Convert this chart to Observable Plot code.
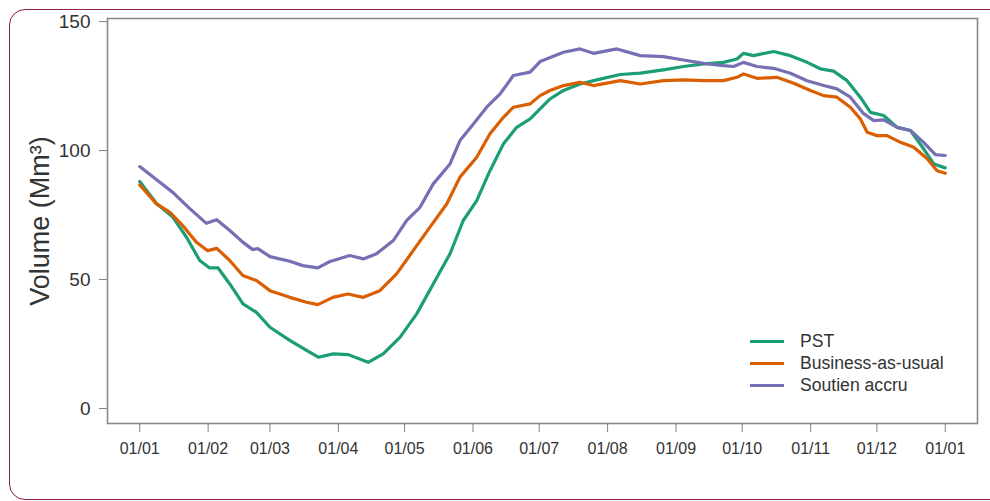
<!DOCTYPE html>
<html>
<head>
<meta charset="utf-8">
<script src="https://cdn.jsdelivr.net/npm/d3@7"></script>
<script src="https://cdn.jsdelivr.net/npm/@observablehq/plot@0.6"></script>
<style>
html, body { margin: 0; padding: 0; background: #fff; overflow: hidden; width: 990px; height: 501px; }
#wrap { position: relative; width: 990px; height: 501px; font-family: "Liberation Sans", Arial, sans-serif; }
#border { position: absolute; left: 9px; top: 9px; width: 1010px; height: 491px; box-sizing: border-box;
  border: 1.5px solid #8f1f45; border-radius: 16px; pointer-events: none; }
#legend { position: absolute; left: 750px; top: 330px; font-size: 17.6px; color: #333; }
#legend .row { height: 22px; line-height: 22px; white-space: nowrap; }
#legend .sw { display: inline-block; width: 34px; height: 3px; vertical-align: middle; margin-right: 16px; position: relative; top: -1px; }
</style>
</head>
<body>
<div id="wrap"><div id="chart"></div><div id="legend"></div><div id="border"></div></div>
<script>
// Series names and colours
const series = ["PST", "Business-as-usual", "Soutien accru"];
const colors = ["#1b9e77", "#d95f02", "#7570b3"];

// Day of year (0 = 1 January) and volume (Mm3) for each series
const pstDays = [0, 7.6, 15, 21.2, 27.2, 31.7, 35.5, 40.8, 46.8, 52.9, 59, 68, 75.6, 80.9, 87.7, 94.5, 103.5, 110.3, 117.9, 125.5, 133, 140.6, 146.6, 152.7, 158.7, 164.8, 170.8, 176.9, 181.4, 185.9, 192, 199.5, 207.1, 217.7, 226.8, 237.3, 246.4, 255.5, 264.5, 270.6, 273.6, 278.1, 287.2, 294.8, 302.4, 308.4, 314.4, 320.5, 326.5, 331.1, 337.1, 343.2, 349.2, 355.2, 359.8, 365];
const pstVolume = [88, 79.5, 74.2, 66.4, 57.4, 54.5, 54.5, 48.3, 40.6, 37.3, 31.5, 26.4, 22.5, 19.9, 21.2, 20.9, 17.9, 21.2, 27.6, 36.7, 48.3, 60, 72.9, 80.6, 92.2, 102.6, 109, 112.3, 116.2, 120, 123.3, 125.8, 127.4, 129.5, 130, 131.3, 132.6, 133.6, 134.2, 135.5, 137.7, 136.8, 138.4, 136.8, 134.2, 131.7, 130.8, 127.1, 120.7, 114.8, 113.6, 109, 107.8, 100.7, 94.8, 93.3];

const bauDays = [0, 7.6, 13.6, 19.5, 25.7, 30.8, 34.9, 40.8, 46.7, 52.9, 59, 68, 75.6, 80.7, 87.5, 94.3, 101.3, 108.8, 116.4, 123.9, 131.5, 139.1, 145.1, 152.7, 158.7, 164.8, 169.3, 176.9, 181.4, 185.9, 192, 199.5, 205.6, 217.7, 226.8, 237.3, 246.4, 255.5, 264.5, 270.6, 273.6, 279.7, 288.7, 296.3, 303.9, 309.9, 315.9, 322, 326.5, 329.6, 334.1, 338.6, 344.7, 350.7, 356.8, 361.3, 365];
const bauVolume = [86.7, 79.3, 76.1, 70.9, 64.5, 61.2, 62.1, 57.4, 51.6, 49.6, 45.7, 43.1, 41.2, 40.3, 43.1, 44.4, 43.1, 45.7, 52.2, 61.2, 70.3, 79.3, 89.7, 97.4, 106.5, 112.9, 116.8, 118.1, 121.3, 123.3, 125.2, 126.5, 125.2, 127.1, 125.8, 127.1, 127.4, 127.1, 127.1, 128.4, 129.7, 128, 128.4, 126.1, 123.3, 121.3, 120.7, 116.8, 112.3, 107.1, 105.8, 105.8, 103.2, 101.3, 96.8, 92.2, 91.2];

const accruDays = [0, 9.1, 15, 22.7, 30.2, 34.9, 40.8, 46.7, 51.2, 53.5, 59, 68, 73.9, 80.7, 86.2, 95.2, 101.3, 107.3, 114.9, 121, 127, 133, 140.6, 145.1, 151.2, 157.2, 163.3, 169.3, 176.9, 181.4, 192, 199.5, 205.6, 216.2, 226.8, 237.3, 246.4, 255.5, 264.5, 269.1, 273.6, 279.7, 287.2, 294.8, 302.4, 309.9, 315.9, 322, 328, 332.6, 337.1, 343.2, 349.2, 355.2, 360.5, 365];
const accruVolume = [93.8, 87.7, 83.8, 77.5, 71.8, 73.2, 69, 64.5, 61.6, 62, 58.9, 57.1, 55.4, 54.5, 57, 59.3, 58, 60, 65.1, 72.9, 78, 87.1, 94.8, 103.9, 110.3, 116.8, 122, 129.1, 130.4, 134.5, 138.1, 139.4, 137.7, 139.4, 136.8, 136.4, 135.1, 133.8, 132.9, 132.6, 134.2, 132.6, 131.9, 130, 127.1, 125.2, 123.9, 120.7, 114.3, 111.6, 111.9, 109, 107.8, 103.2, 98.4, 98.1];

// Axis ticks
const tickDays = [0, 31, 59, 90, 120, 151, 181, 212, 243, 273, 304, 334, 365];
const tickLabels = ["01/01", "01/02", "01/03", "01/04", "01/05", "01/06", "01/07", "01/08", "01/09", "01/10", "01/11", "01/12", "01/01"];
const yTicks = [0, 50, 100, 150];
const yLabel = "Volume (Mm³)";

const start = Date.UTC(2001, 0, 1);
const toDate = d => new Date(start + d * 864e5);

const rows = [];
[[pstDays, pstVolume], [bauDays, bauVolume], [accruDays, accruVolume]].forEach(([days, vols], k) => {
  days.forEach((d, i) => rows.push({series: series[k], date: toDate(d), volume: vols[i]}));
});

const tickDates = tickDays.map(toDate);
const labelMap = new Map(tickDates.map((d, i) => [+d, tickLabels[i]]));

const font = '"Liberation Sans", Arial, sans-serif';
const chart = Plot.plot({
  width: 990,
  height: 501,
  marginLeft: 107,
  marginRight: 13,
  marginTop: 18,
  marginBottom: 78,
  style: {fontFamily: font, background: "transparent", color: "#333"},
  x: {type: "utc", domain: [toDate(-14.6), toDate(365 + 14.6)]},
  y: {domain: [-5.8, 151.2]},
  color: {domain: series, range: colors},
  marks: [
    Plot.frame({stroke: "#8a8a8a", strokeWidth: 1.6}),
    Plot.axisX({ticks: tickDates, tickFormat: d => labelMap.get(+d), tickSize: 9, tickPadding: 10,
      fontSize: 16, stroke: "#808080", fill: "#333", label: null}),
    Plot.axisY({ticks: yTicks, tickSize: 8, tickPadding: 9, fontSize: 19, stroke: "#808080", fill: "#333", label: null}),
    Plot.text([yLabel], {text: d => d, frameAnchor: "left", textAnchor: "middle", dx: -67, rotate: -90, fontSize: 27, fill: "#333"}),
    Plot.line(rows, {x: "date", y: "volume", z: "series", stroke: "series", strokeWidth: 3.2, strokeLinejoin: "round"})
  ]
});
document.getElementById("chart").appendChild(chart);

const legend = document.getElementById("legend");
series.forEach((s, i) => {
  const row = document.createElement("div");
  row.className = "row";
  const sw = document.createElement("span");
  sw.className = "sw";
  sw.style.background = colors[i];
  row.appendChild(sw);
  row.appendChild(document.createTextNode(s));
  legend.appendChild(row);
});
</script>
</body>
</html>
